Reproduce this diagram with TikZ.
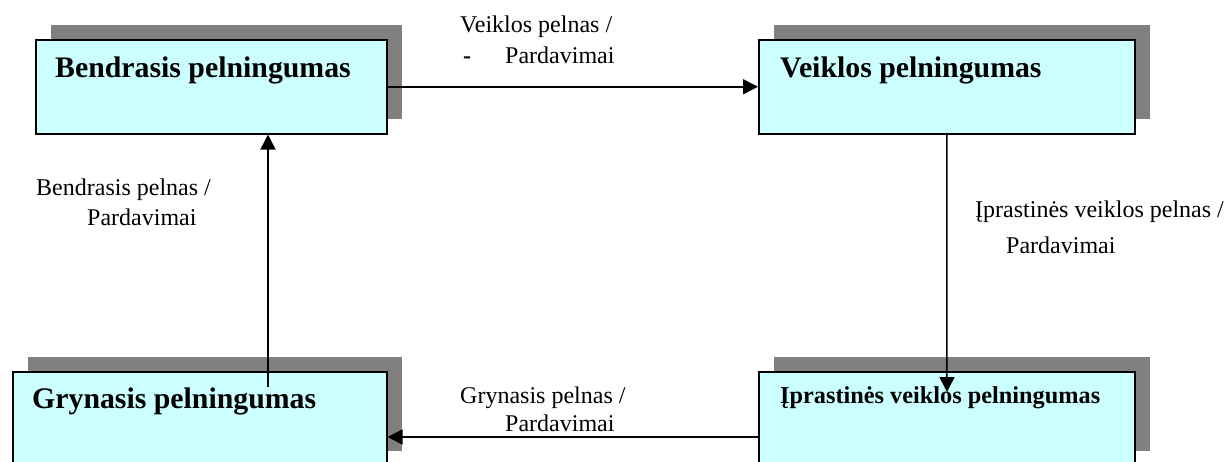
\documentclass[tikz,border=0pt]{standalone}
\usepackage{fontspec}
\setmainfont{Liberation Serif}
\usetikzlibrary{arrows.meta,shadows}
\definecolor{boxfill}{HTML}{CCFFFF}
\definecolor{shadowgray}{HTML}{808080}
\tikzset{
  box/.style={draw=black, line width=1.5pt, fill=boxfill, anchor=north west,
    minimum width=#1, minimum height=94pt, inner sep=0pt,
    copy shadow={shadow xshift=15pt, shadow yshift=15pt, fill=shadowgray, draw=none}},
  boxtext/.style={anchor=base west, inner sep=0pt, font=\bfseries\fontsize{29.8}{32}\selectfont},
  smallboxtext/.style={anchor=base west, inner sep=0pt, font=\bfseries\fontsize{24.3}{28}\selectfont},
  lbl/.style={anchor=base west, inner sep=0pt, align=left, font=\fontsize{24}{30}\selectfont},
  arr/.style={line width=1.5pt, -{Triangle[length=15pt,width=15pt]}}
}
\begin{document}
\begin{tikzpicture}[x=1pt,y=-1pt]
  \clip (0,0) rectangle (1228,461);
  \fill[white] (0,0) rectangle (1228,461);
  % boxes
  \node[box=351pt] (b1) at (35,39) {};
  \node[box=376pt] (b2) at (758,39) {};
  \node[box=376pt] (b3) at (758,371) {};
  \node[box=374pt] (b4) at (12,371) {};
  % box texts
  \node[boxtext] (t1) at (55,77) {Bendrasis pelningumas};
  \node[boxtext] (t2) at (780,77) {Veiklos pelningumas};
  \node[smallboxtext] (t3) at (780,403) {Įprastinės veiklos pelningumas};
  \node[boxtext] (t4) at (32,408) {Grynasis pelningumas};
  % connectors
  \coordinate (c3) at (947,392);
  \coordinate (c4) at (268,387);
  \coordinate (bot) at (572,437);
  \draw[arr] (b1.east) -- (b2.west);
  \draw[arr] (b2.south) -- (c3);
  \draw[arr] (bot -| b3.west) -- (bot -| b4.east);
  \draw[arr] (c4) -- (c4 |- b1.south);
  % labels (anchored at the baseline of the last line)
  \node[lbl] (l1) at (460,63) {Veiklos pelnas /\\[1pt]\hspace*{3pt}\textbf{-}\hspace{34pt}Pardavimai};
  \node[lbl] (l2) at (975,253) {Įprastinės veiklos pelnas /\\[6pt]\hspace*{31pt}Pardavimai};
  \node[lbl] (l3) at (460,431) {Grynasis pelnas /\\[-2pt]\hspace*{45pt}Pardavimai};
  \node[lbl] (l4) at (36,225) {Bendrasis pelnas /\\[0pt]\hspace*{51pt}Pardavimai};
\end{tikzpicture}
\end{document}
